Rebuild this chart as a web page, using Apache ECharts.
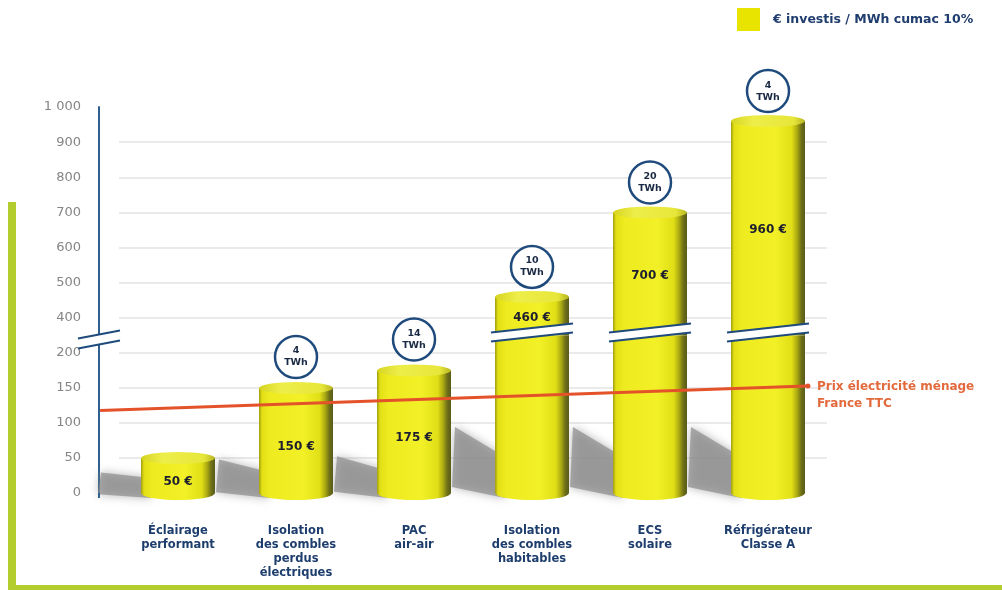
<!DOCTYPE html>
<html>
<head>
<meta charset="utf-8">
<script src="https://cdn.jsdelivr.net/npm/echarts@6/dist/echarts.min.js"></script>
<style>
  html, body { margin: 0; padding: 0; background: #ffffff; }
  #chart { width: 1002px; height: 590px; }
</style>
</head>
<body>
<div id="chart"></div>
<script>
// ---- Data ----
const categories = [
  'Éclairage\nperformant',
  'Isolation\ndes combles\nperdus\nélectriques',
  'PAC\nair-air',
  'Isolation\ndes combles\nhabitables',
  'ECS\nsolaire',
  'Réfrigérateur\nClasse A'
];
const costPerMWh = [50, 150, 175, 460, 700, 960];      // € investis / MWh cumac
const savingsTWh = [null, 4, 14, 10, 20, 4];           // gisement (TWh)
const priceLine = [118, 153];                          // prix électricité ménage, début / fin
const lowerAxis = { min: 0, max: 200, step: 50 };
const upperAxis = { min: 400, max: 1000, step: 100 };
const seriesName = '€ investis / MWh cumac 10%';
const priceLabel = 'Prix électricité ménage\nFrance TTC';

// ---- Layout ----
const GRID_LEFT = 119, GRID_WIDTH = 708;
const LOWER = { top: 353, height: 140 };
const UPPER = { top: 107, height: 211 };
const GAP = LOWER.top - (UPPER.top + UPPER.height);
const GAP_MID = LOWER.top - GAP / 2;
const AXIS_X = 99;
const BAR_W = 74;
const TOP_RY = 6, BASE_RY = 7;
const PRICE_FROM = -0.66, PRICE_TO = 5.33;   // ends of the price line, in category units
const NAVY = '#1f4a7c';
const FONT = '"DejaVu Sans", "Liberation Sans", sans-serif';

function bodyFill() {
  return new echarts.graphic.LinearGradient(0, 0, 1, 0, [
    { offset: 0, color: '#a09c10' },
    { offset: 0.04, color: '#e2e014' },
    { offset: 0.15, color: '#eeec20' },
    { offset: 0.6, color: '#f2f026' },
    { offset: 0.82, color: '#e0de16' },
    { offset: 0.89, color: '#aeac12' },
    { offset: 0.95, color: '#6e7018' },
    { offset: 1, color: '#585a1a' }
  ]);
}
function topFill() {
  return new echarts.graphic.LinearGradient(0, 0, 1, 0, [
    { offset: 0, color: '#d6d420' },
    { offset: 0.3, color: '#eeee4a' },
    { offset: 0.85, color: '#e6e63a' },
    { offset: 1, color: '#b6b420' }
  ]);
}

function cylinder(cx, yTop, yBottom, withTop, withBase) {
  const w = BAR_W / 2;
  const parts = [];
  if (withBase) {
    parts.push({ type: 'circle', shape: { cx: 0, cy: 0, r: w }, x: cx, y: yBottom, scaleY: BASE_RY / w,
      style: { fill: bodyFill() } });
  }
  parts.push({ type: 'rect', shape: { x: cx - w, y: yTop, width: BAR_W, height: yBottom - yTop },
    style: { fill: bodyFill() } });
  if (withTop) {
    parts.push({ type: 'circle', shape: { cx: 0, cy: 0, r: w }, x: cx, y: yTop, scaleY: TOP_RY / w,
      style: { fill: topFill() } });
  }
  return parts;
}

function valueText(cx, y, v) {
  return { type: 'text', x: cx, y: y,
    style: { text: v + ' €', align: 'center', verticalAlign: 'middle', fill: '#1c1e30',
      font: 'bold 12px ' + FONT } };
}

function badge(cx, cy, twh) {
  return [
    { type: 'circle', shape: { cx: cx, cy: cy, r: 21 },
      style: { fill: '#ffffff', stroke: NAVY, lineWidth: 2.5 } },
    { type: 'text', x: cx, y: cy,
      style: { text: twh + '\nTWh', align: 'center', verticalAlign: 'middle', fill: '#1b2a44',
        font: 'bold 9.5px ' + FONT, lineHeight: 12 } }
  ];
}

function slash(x0, x1, yc, rise, thick) {
  const a = [x0, yc + rise / 2 - thick / 2], b = [x1, yc - rise / 2 - thick / 2];
  const c = [x1, yc - rise / 2 + thick / 2], d = [x0, yc + rise / 2 + thick / 2];
  return [
    { type: 'polygon', shape: { points: [a, b, c, d] }, style: { fill: '#ffffff' } },
    { type: 'line', shape: { x1: a[0], y1: a[1], x2: b[0], y2: b[1] }, style: { stroke: NAVY, lineWidth: 2 } },
    { type: 'line', shape: { x1: d[0], y1: d[1], x2: c[0], y2: c[1] }, style: { stroke: NAVY, lineWidth: 2 } }
  ];
}

// soft floor shadows cast toward the back-left
function renderShadow(params, api) {
  const i = api.value(0), v = api.value(1);
  const [cx, base] = api.coord([i, 0]);
  const k = Math.min(v, 400) / 400;
  const t = 12 + 24 * k, s = 0.05 + 0.7 * k, dx = 40;
  const xL = cx - BAR_W / 2;
  return {
    type: 'polygon',
    shape: { points: [
      [xL + 10, base + 5], [xL + 10, base - t],
      [xL - dx, base - t - dx * s], [xL - dx - 3, base + 3 - dx * s * 0.3]
    ] },
    style: { fill: 'rgba(140,140,140,0.7)', shadowBlur: 10, shadowColor: 'rgba(140,140,140,0.9)' }
  };
}

function renderLower(params, api) {
  const i = api.value(0), v = api.value(1);
  const [cx, base] = api.coord([i, 0]);
  const broken = v > lowerAxis.max;
  const yTop = broken ? GAP_MID : api.coord([i, v])[1];
  const children = cylinder(cx, yTop, base, !broken, true);
  if (!broken) {
    children.push(valueText(cx, (yTop + base + BASE_RY) / 2 + 3, v));
    if (savingsTWh[i] != null) children.push(...badge(cx, yTop - 31, savingsTWh[i]));
  }
  return { type: 'group', children: children };
}

function renderUpper(params, api) {
  const i = api.value(0), v = api.value(1);
  if (v <= lowerAxis.max) return { type: 'group', children: [] };
  const [cx, yTop] = api.coord([i, v]);
  const children = cylinder(cx, yTop, GAP_MID, true, false);
  children.push(...slash(cx - BAR_W / 2 - 4, cx + BAR_W / 2 + 4, GAP_MID - 3, 9, 9));
  children.push(valueText(cx, (yTop + GAP_MID) / 2 + 2, v));
  if (savingsTWh[i] != null) children.push(...badge(cx, yTop - 30, savingsTWh[i]));
  return { type: 'group', children: children };
}

// household electricity price, drawn across the lower panel
function renderPrice(params, api) {
  const p0 = api.coord([api.value(0), api.value(1)]);
  const p1 = api.coord([api.value(2), api.value(3)]);
  return { type: 'group', children: [
    { type: 'line', shape: { x1: p0[0], y1: p0[1], x2: p1[0], y2: p1[1] },
      style: { stroke: '#e4522a', lineWidth: 3 } },
    { type: 'circle', shape: { cx: p1[0] + 1, cy: p1[1], r: 2.5 }, style: { fill: '#e4522a' } },
    { type: 'text', x: p1[0] + 10, y: p1[1] - 8,
      style: { text: priceLabel, fill: '#e26a3c', font: 'bold 12px ' + FONT, lineHeight: 17,
        align: 'left', verticalAlign: 'top' } }
  ] };
}

const barData = costPerMWh.map((v, i) => [i, v]);

const yAxisCommon = {
  type: 'value',
  offset: GRID_LEFT - AXIS_X,
  axisLine: { show: true, onZero: false, lineStyle: { color: '#2e5f8e', width: 2 } },
  axisTick: { show: false },
  axisLabel: { color: '#858585', fontSize: 13, fontFamily: FONT, margin: 18,
    formatter: v => v >= 1000 ? String(v).replace(/(\d)(\d{3})$/, '$1 $2') : String(v) },
  splitLine: { show: true, lineStyle: { color: '#e3e3e3', width: 1.5 } }
};

const option = {
  backgroundColor: '#ffffff',
  animation: false,
  legend: {
    data: [seriesName],
    left: 737, top: 8, padding: 0,
    icon: 'rect', itemWidth: 23, itemHeight: 23,
    textStyle: { color: '#1f3d6e', fontWeight: 'bold', fontSize: 12.5, fontFamily: FONT, padding: [0, 0, 0, 8] },
    selectedMode: false
  },
  grid: [
    { left: GRID_LEFT, width: GRID_WIDTH, top: LOWER.top, height: LOWER.height },
    { left: GRID_LEFT, width: GRID_WIDTH, top: UPPER.top, height: UPPER.height }
  ],
  xAxis: [
    { type: 'category', gridIndex: 0, data: categories,
      axisLine: { show: false }, axisTick: { show: false },
      axisLabel: { interval: 0, margin: 31, color: '#1d3d6d', fontWeight: 'bold', fontSize: 11.5,
        fontFamily: FONT, lineHeight: 14 } },
    { type: 'category', gridIndex: 1, data: categories, show: false },
    { type: 'value', gridIndex: 0, min: -0.5, max: 5.5, show: false }
  ],
  yAxis: [
    Object.assign({}, yAxisCommon, { gridIndex: 0, min: lowerAxis.min, max: lowerAxis.max, interval: lowerAxis.step,
      splitLine: Object.assign({}, yAxisCommon.splitLine, { showMinLine: false }) }),
    Object.assign({}, yAxisCommon, { gridIndex: 1, min: upperAxis.min, max: upperAxis.max, interval: upperAxis.step,
      splitLine: Object.assign({}, yAxisCommon.splitLine, { showMaxLine: false }) })
  ],
  series: [
    { type: 'custom', name: 'ombre', xAxisIndex: 0, yAxisIndex: 0, z: 1, silent: true,
      renderItem: renderShadow, data: barData },
    { type: 'custom', name: seriesName, xAxisIndex: 0, yAxisIndex: 0, z: 2,
      itemStyle: { color: '#e8e400' }, renderItem: renderLower, data: barData },
    { type: 'custom', name: seriesName, xAxisIndex: 1, yAxisIndex: 1, z: 2,
      itemStyle: { color: '#e8e400' }, renderItem: renderUpper, data: barData },
    { type: 'custom', name: 'prix', xAxisIndex: 2, yAxisIndex: 0, z: 6, silent: true,
      renderItem: renderPrice, data: [[PRICE_FROM, priceLine[0], PRICE_TO, priceLine[1]]] }
  ],
  graphic: [
    // lime frame
    { type: 'rect', z: 20, shape: { x: 8, y: 202, width: 8, height: 388 }, style: { fill: '#b3cd2f' } },
    { type: 'rect', z: 20, shape: { x: 8, y: 585, width: 994, height: 5 }, style: { fill: '#b3cd2f' } },
    // axis line through the break and below zero
    { type: 'line', z: 20, shape: { x1: AXIS_X, y1: UPPER.top + UPPER.height, x2: AXIS_X, y2: LOWER.top },
      style: { stroke: '#2e5f8e', lineWidth: 2 } },
    { type: 'line', z: 20, shape: { x1: AXIS_X, y1: LOWER.top + LOWER.height, x2: AXIS_X, y2: LOWER.top + LOWER.height + 5 },
      style: { stroke: '#2e5f8e', lineWidth: 2 } },
    { type: 'group', z: 21, children: slash(AXIS_X - 21, AXIS_X + 21, GAP_MID + 4, 8, 10).map(e => Object.assign(e, { z: 21 })) }
  ]
};

const chart = echarts.init(document.getElementById('chart'));
chart.setOption(option);
</script>
</body>
</html>
